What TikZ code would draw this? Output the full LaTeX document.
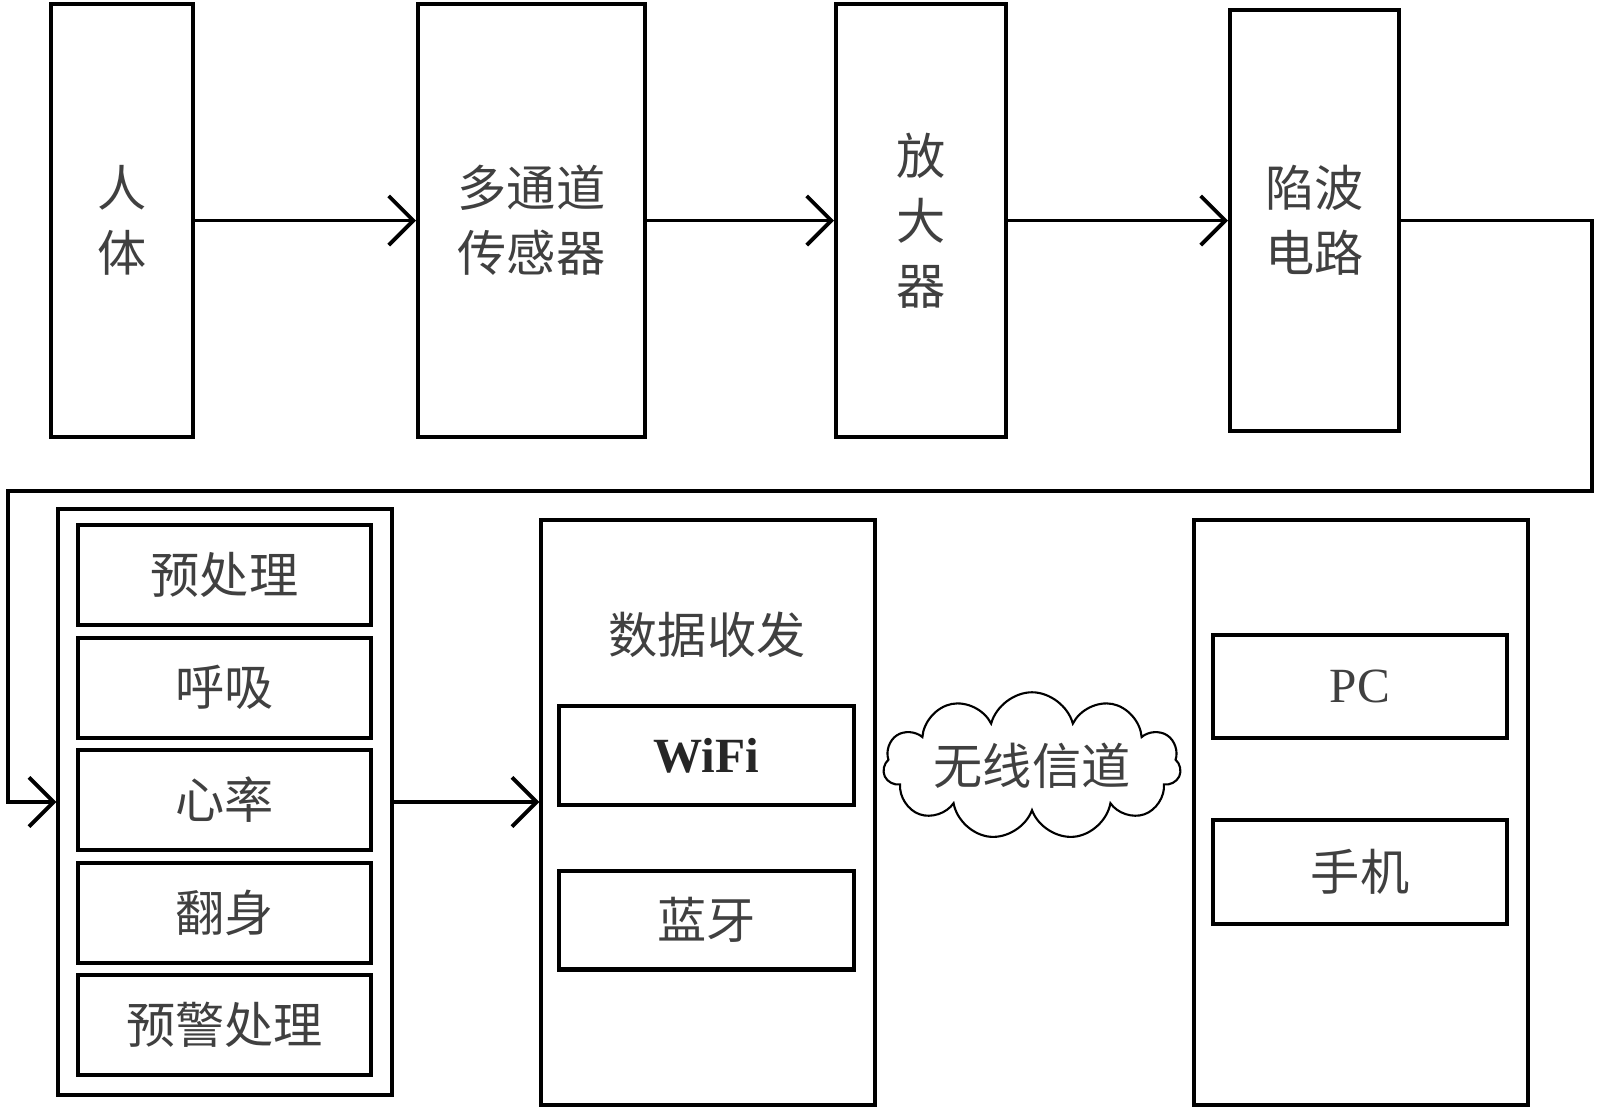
\documentclass[tikz,border=0pt]{standalone}
\usepackage{fontspec}
\setmainfont{Liberation Serif}
\newfontfamily\cjk{Noto Sans CJK SC}
\usetikzlibrary{arrows.meta,positioning,shapes.symbols}

\begin{document}
\begin{tikzpicture}[x=0.02cm, y=-0.02cm, node distance=0.25cm,
    tbox/.style={rectangle, draw, line width=2.3pt, minimum height=8.66cm, align=center, font=\cjk\fontsize{28}{37}\selectfont, text=black!75},
    ibox/.style={rectangle, draw, line width=2.3pt, minimum width=5.86cm, minimum height=2cm, font=\cjk\fontsize{28}{34}\selectfont, text=black!75},
    pbox/.style={rectangle, draw, line width=2pt, minimum width=6.68cm, minimum height=11.7cm},
    link/.style={-{Straight Barb[length=14pt,width=28pt]}, line width=2.2pt}]

    \useasboundingbox (0,0) rectangle (1600,1110);

    % top row
    \node[tbox, minimum width=2.84cm] (body) at (122,220.5) {人\\体};
    \node[tbox, minimum width=4.54cm] (sensor) at (531.5,220.5) {多通道\\传感器};
    \node[tbox, minimum width=3.4cm] (amp) at (921,220.5) {放\\大\\器};
    \node[tbox, minimum width=3.38cm, minimum height=8.42cm] (notch) at (1314.5,220.5) {陷波\\电路};

    \draw[link] (body) -- (sensor);
    \draw[link] (sensor) -- (amp);
    \draw[link] (amp) -- (notch);

    % processing
    \node[pbox, minimum height=11.72cm] (proc) at (225,802) {};
    \node[ibox] (p1) at (224.5,575) {预处理};
    \node[ibox, below=0.17cm of p1] (p2) {呼吸};
    \node[ibox, below=0.17cm of p2] (p3) {心率};
    \node[ibox, below=0.17cm of p3] (p4) {翻身};
    \node[ibox, below=0.17cm of p4] (p5) {预警处理};

    \coordinate (turnR) at (1592,491);
    \coordinate (turnL) at (8,491);
    \draw[link] (notch.east) -| (turnR) -- (turnL) |- (proc.west);

    % transceiver
    \node[pbox] (trx) at (708,812.5) {};
    \node[font=\cjk\fontsize{28}{34}\selectfont, text=black!75] (trxlbl) at (707,635) {数据收发};
    \node[ibox, minimum width=5.9cm, minimum height=1.98cm, font=\bfseries\fontsize{28}{34}\selectfont, text=black!85] (wifi) at (706.5,755.5) {WiFi};
    \node[ibox, minimum width=5.9cm, minimum height=1.98cm] (bt) at (706.5,920) {蓝牙};

    \draw[link] (proc.east) -- (proc.east -| trx.west);

    % channel
    \node[cloud, draw, line width=1.2pt, cloud puffs=11, aspect=2.1, minimum width=5.95cm, minimum height=2.95cm, inner sep=0pt,
        label={[font=\cjk\fontsize{28}{34}\selectfont, text=black!75]center:无线信道}] (chan) at (1032,766) {};

    % terminals
    \node[pbox] (term) at (1361,812.5) {};
    \node[ibox, minimum width=5.88cm, minimum height=2.06cm, font=\fontsize{28}{34}\selectfont] (pc) at (1360,686.5) {PC};
    \node[ibox, minimum width=5.88cm, minimum height=2.08cm] (phone) at (1360,872) {手机};
\end{tikzpicture}
\end{document}
